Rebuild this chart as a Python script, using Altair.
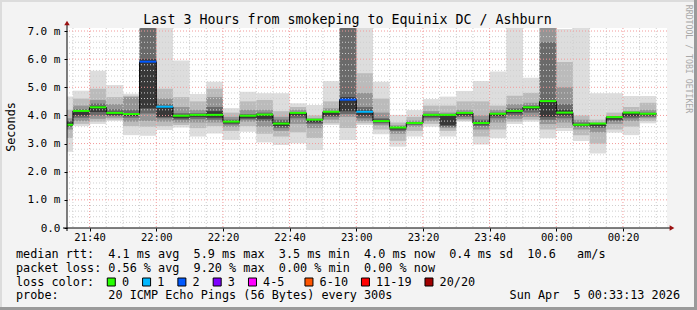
import altair as alt
import pandas as pd

FONT = "DejaVu Sans Mono"

# ---- time axis (minutes after 21:00) ----
T_START = 33 + 13 / 60.0      # 21:33:13
T_END = T_START + 180         # 00:33:13
STEP = 5
FIRST = 30                    # first (clipped) interval starts 21:30
YMAX = 7.107

# ---- data (ms) ----
median = [3.67, 4.16, 4.29, 4.09, 4.05, 5.91, 4.31, 3.99, 4.02, 4.02, 3.78, 3.99,
          4.03, 3.71, 4.09, 3.85, 4.13, 4.56, 4.13, 3.80, 3.57, 3.73, 4.02, 4.02,
          4.09, 3.73, 4.06, 4.16, 4.29, 4.51, 4.10, 3.67, 3.71, 3.94, 4.10, 4.06]
loss = [0, 0, 0, 0, 0, 2, 1, 0, 0, 0, 0, 0, 0, 0, 0, 0, 0, 2, 1, 0, 0, 0, 0, 0,
        0, 0, 0, 0, 0, 0, 0, 0, 0, 0, 0, 0]
a_top = [4.67, 4.88, 5.59, 5.08, 4.77, 7.6, 7.6, 5.95, 4.76, 5.20, 4.26, 4.84,
         4.79, 4.79, 4.43, 4.37, 5.22, 7.6, 7.6, 5.20, 4.02, 4.19, 4.58, 4.67,
         4.87, 5.22, 5.56, 7.6, 5.34, 7.6, 7.07, 7.6, 4.79, 4.79, 4.69, 4.69]
a_bot = [2.71, 3.62, 3.70, 3.80, 3.30, 3.28, 3.48, 3.57, 3.25, 3.36, 3.13, 3.42,
         3.04, 2.95, 3.01, 2.77, 3.66, 3.13, 3.66, 3.33, 2.89, 3.25, 3.60, 3.25,
         3.78, 2.97, 3.19, 3.70, 3.78, 3.19, 3.45, 3.09, 2.65, 3.39, 3.30, 3.72]
b_top = [4.20, 4.60, 4.95, 4.65, 4.70, 7.6, 4.95, 4.65, 4.50, 4.95, 4.10, 4.50,
         4.55, 4.15, 4.30, 4.00, 4.50, 7.6, 5.50, 4.60, 3.75, 3.95, 4.35, 4.35,
         4.50, 4.50, 4.35, 4.70, 4.80, 7.6, 5.90, 4.00, 3.85, 4.10, 4.30, 4.45]
b_bot = [3.20, 3.70, 3.78, 3.85, 3.62, 3.60, 3.62, 3.66, 3.55, 3.62, 3.45, 3.62,
         3.35, 3.25, 3.40, 3.20, 3.72, 3.55, 3.72, 3.50, 3.10, 3.45, 3.70, 3.45,
         3.82, 3.25, 3.50, 3.78, 3.85, 3.50, 3.55, 3.30, 3.00, 3.50, 3.60, 3.80]
c_top = [3.90, 4.35, 4.55, 4.40, 4.65, 7.6, 4.60, 4.30, 4.20, 4.65, 3.95, 4.20,
         4.20, 3.95, 4.20, 3.90, 4.25, 7.6, 4.80, 4.10, 3.65, 3.82, 4.15, 4.10,
         4.20, 4.00, 4.20, 4.40, 4.45, 7.6, 5.00, 3.85, 3.75, 3.98, 4.15, 4.20]
c_bot = [3.50, 3.80, 3.88, 3.92, 3.78, 3.80, 3.78, 3.75, 3.75, 3.75, 3.60, 3.78,
         3.60, 3.45, 3.70, 3.55, 3.85, 3.95, 3.80, 3.65, 3.35, 3.60, 3.80, 3.55,
         3.88, 3.50, 3.75, 3.88, 3.95, 3.70, 3.75, 3.50, 3.40, 3.70, 3.80, 3.90]
d_top = [3.80, 4.22, 4.42, 4.22, 4.20, 7.6, 4.40, 4.08, 4.08, 4.30, 3.85, 4.05,
         4.10, 3.85, 4.12, 3.87, 4.15, 7.6, 4.30, 3.90, 3.60, 3.76, 4.06, 4.03,
         4.12, 3.85, 4.10, 4.25, 4.35, 6.60, 4.40, 3.75, 3.72, 3.95, 4.10, 4.10]
d_bot = [3.60, 3.92, 4.00, 3.98, 3.92, 4.07, 3.90, 3.85, 3.88, 3.85, 3.68, 3.86,
         3.80, 3.55, 3.90, 3.70, 3.95, 4.05, 3.90, 3.72, 3.45, 3.66, 3.90, 3.60,
         3.95, 3.62, 3.90, 4.00, 4.10, 3.85, 3.90, 3.60, 3.55, 3.80, 3.90, 3.95]
e_top = [3.75, 4.18, 4.33, 4.13, 4.08, 6.00, 4.30, 4.02, 4.04, 4.15, 3.80, 4.00,
         4.05, 3.75, 4.10, 3.86, 4.13, 4.65, 4.18, 3.85, 3.58, 3.74, 4.04, 4.00,
         4.10, 3.78, 4.08, 4.20, 4.32, 4.55, 4.20, 3.70, 3.71, 3.94, 4.09, 4.08]
e_bot = [3.62, 4.00, 4.12, 4.02, 3.98, 4.25, 3.95, 3.90, 3.95, 3.92, 3.72, 3.90,
         3.88, 3.62, 4.00, 3.75, 4.00, 4.15, 4.00, 3.76, 3.50, 3.70, 3.96, 3.65,
         4.00, 3.68, 3.98, 4.08, 4.20, 3.95, 4.00, 3.63, 3.62, 3.85, 3.97, 4.00]

smoke_layers = [(a_top, a_bot, "#dddddd"), (b_top, b_bot, "#bbbbbb"),
                (c_top, c_bot, "#959595"), (d_top, d_bot, "#6a6a6a"),
                (e_top, e_bot, "#383838")]

loss_labels = ["0", "1", "2", "3", "4-5", "6-10", "11-19", "20/20"]
loss_colors = ["#26ff00", "#00b8ff", "#0059ff", "#7e00ff", "#ff00ff", "#ff5500", "#ff0000", "#a10000"]
loss_cols = [13, 18, 23, 28, 33, 41, 49, 58]   # text column of each legend box

x_ticks = list(range(40, 201, 20))
y_ticks = list(range(0, 8))


def loss_color(k):
    if k <= 3:
        return loss_colors[k]
    if k <= 5:
        return loss_colors[4]
    if k <= 10:
        return loss_colors[5]
    if k <= 19:
        return loss_colors[6]
    return loss_colors[7]


n = len(median)
start = [FIRST + STEP * i for i in range(n)]
end = [s + STEP for s in start]

xs = alt.Scale(domain=[T_START, T_END], nice=False, zero=False)
ys = alt.Scale(domain=[0, YMAX], nice=False, zero=True)

label_expr_x = ("(((21 + floor(datum.value / 60)) % 24) < 10 ? '0' : '') + ((21 + floor(datum.value / 60)) % 24)"
                " + ':' + ((datum.value % 60) < 10 ? '0' : '') + (datum.value % 60)")
XA = dict(values=x_ticks, labelExpr=label_expr_x, title=None,
          domain=False, grid=False, tickSize=3, tickColor="#000",
          labelFont=FONT, labelFontSize=10.5, labelColor="#000",
          labelPadding=1, labelFlush=False)
YA = dict(values=y_ticks,
          labelExpr="datum.value == 0 ? '0.0' : format(datum.value, '.1f') + ' m'",
          title=None, domain=False, grid=False, tickSize=3,
          tickColor="#000", labelFont=FONT, labelFontSize=11,
          labelColor="#000", labelPadding=4)


def X(f):
    return alt.X(f, scale=xs, axis=alt.Axis(**XA))


def Y(f):
    return alt.Y(f, scale=ys, axis=alt.Axis(**YA))


layers = []

# ---- smoke ----
for top, bot, col in smoke_layers:
    df = pd.DataFrame({"x": start, "x2": end, "hi": top, "lo": bot})
    layers.append(
        alt.Chart(df).mark_rect(clip=True, color=col, strokeWidth=0).encode(
            x=X("x:Q"), x2="x2:Q", y=Y("hi:Q"), y2="lo:Q")
    )

# ---- grid (drawn over the smoke like rrdtool) ----
h_minor = [round(i * 0.2, 1) for i in range(1, 36) if i % 5 != 0]
h_major = [float(i) for i in range(1, 8)]
v_minor = [m for m in range(35, 211, 5) if m % 20 != 0]
v_major = [m for m in range(40, 201, 20)]
layers.append(alt.Chart(pd.DataFrame({"y": h_minor})).mark_rule(
    color="#cfcfcf", strokeWidth=1, strokeDash=[1, 2]).encode(y=Y("y:Q")))
layers.append(alt.Chart(pd.DataFrame({"x": v_minor})).mark_rule(
    color="#cfcfcf", strokeWidth=1, strokeDash=[1, 2]).encode(x=X("x:Q")))
layers.append(alt.Chart(pd.DataFrame({"y": h_major})).mark_rule(
    color="#f29a9a", strokeWidth=1, strokeDash=[1, 2]).encode(y=Y("y:Q")))
layers.append(alt.Chart(pd.DataFrame({"x": v_major})).mark_rule(
    color="#f29a9a", strokeWidth=1, strokeDash=[1, 2]).encode(x=X("x:Q")))

# ---- median step line + loss coloured segments ----
line_df = pd.DataFrame({"x": start + [end[-1]], "y": median + [median[-1]]})
layers.append(alt.Chart(line_df).mark_line(interpolate="step-after", color="#000000",
                                           strokeWidth=1, clip=True).encode(
    x=X("x:Q"), y=Y("y:Q")))
seg_df = pd.DataFrame({"x": start, "x2": end, "y": median, "c": [loss_color(k) for k in loss]})
layers.append(alt.Chart(seg_df).mark_rule(strokeWidth=2, clip=True).encode(
    x=X("x:Q"), x2="x2:Q", y=Y("y:Q"), color=alt.Color("c:N", scale=None)))

# axis lines with arrows
one = pd.DataFrame({"k": [0]})
layers.append(alt.Chart(one).mark_rule(color="#000", strokeWidth=1).encode(
    x=alt.value(0), y=alt.value(-5), y2=alt.value(203)))
layers.append(alt.Chart(one).mark_rule(color="#000", strokeWidth=1).encode(
    x=alt.value(-4), x2=alt.value(604), y=alt.value(200)))
layers.append(alt.Chart(one).mark_point(shape="triangle-up", filled=True, color="#9a1010", size=30, opacity=1).encode(
    x=alt.value(0), y=alt.value(-5)))
layers.append(alt.Chart(one).mark_point(shape="triangle-right", filled=True, color="#9a1010", size=30, opacity=1).encode(
    x=alt.value(605), y=alt.value(200)))


# ---- texts ----
def txt(s, x, y, size=11.8, align="left", baseline="alphabetic", angle=0, color="#000"):
    return alt.Chart(pd.DataFrame({"t": [s.replace(" ", "\u00a0")]})).mark_text(
        font=FONT, fontSize=size, align=align, baseline=baseline, angle=angle, color=color
    ).encode(text="t:N", x=alt.value(x), y=alt.value(y))


CH = 7.06     # character advance of the legend font
LX = -51      # legend left edge in plot coordinates

layers.append(txt("Last 3 Hours from smokeping to Equinix DC / Ashburn", 280.5, -4, size=13.3, align="center"))
layers.append(txt("Seconds", -56, 99, size=11.8, align="center", baseline="middle", angle=270))
layers.append(txt("RRDTOOL / TOBI OETIKER", 621, 31, size=8.2, align="center", baseline="middle",
                  angle=90, color="#a8a8a8"))

layers.append(txt("median rtt:  4.1 ms avg  5.9 ms max  3.5 ms min  4.0 ms now  0.4 ms sd  10.6   am/s", LX, 230.3))
layers.append(txt("packet loss: 0.56 % avg  9.20 % max  0.00 % min  0.00 % now", LX, 243.7))
layers.append(txt("loss color:", LX, 257.7))
layers.append(txt("probe:       20 ICMP Echo Pings (56 Bytes) every 300s", LX, 271.3))
layers.append(txt("Sun Apr  5 00:33:13 2026", 613, 271.3, align="right"))

for lab, col, c in zip(loss_labels, loss_colors, loss_cols):
    left = LX + c * CH - 0.5
    layers.append(alt.Chart(one).mark_rect(fill=col, stroke="#000", strokeWidth=1).encode(
        x=alt.value(left), x2=alt.value(left + 8), y=alt.value(250), y2=alt.value(258)))
    layers.append(txt(lab, LX + (c + 2) * CH, 257.7))

# ---- frame ----
frame = [(-67, 630, -28, -26, "#dcdcdc"), (-67, -65, -28, 282, "#dcdcdc"),
         (627, 630, -28, 282, "#9a9a9a"), (-67, 630, 279, 282, "#9a9a9a")]
for x1, x2, y1, y2, col in frame:
    layers.append(alt.Chart(one).mark_rect(fill=col, strokeWidth=0).encode(
        x=alt.value(x1), x2=alt.value(x2), y=alt.value(y1), y2=alt.value(y2)))

chart = alt.layer(*layers).properties(
    width=600, height=200,
    padding={"left": 67, "top": 28, "right": 30, "bottom": 82},
    autosize=alt.AutoSizeParams(type="none"),
    background="#f3f3f3",
).configure_view(stroke=None, fill="#ffffff")

chart.save("out.html", embed_options={"renderer": "svg", "actions": False})
